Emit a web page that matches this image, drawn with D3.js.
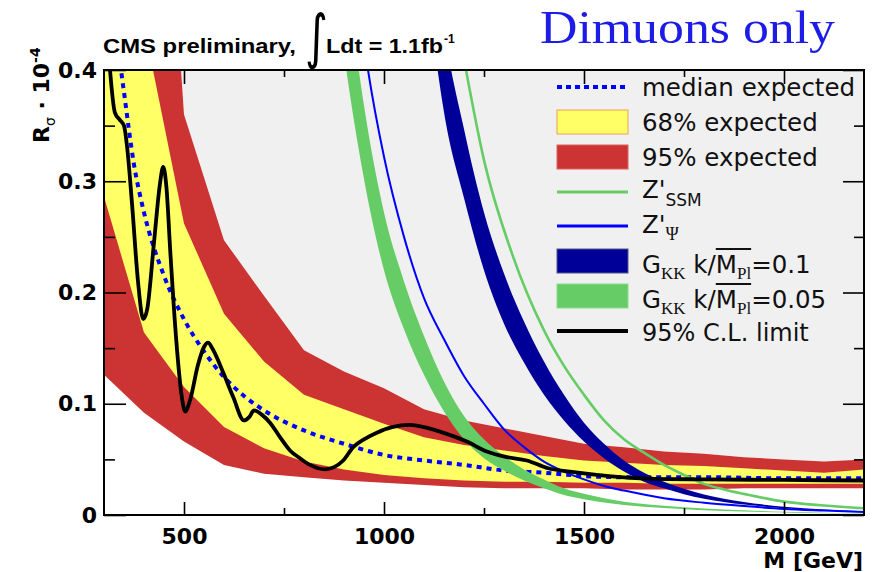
<!DOCTYPE html>
<html><head><meta charset="utf-8">
<script src="https://cdn.jsdelivr.net/npm/d3@7"></script>
<style>body{margin:0;background:#fff;} svg{display:block;}</style>
</head><body>
<svg id="c" width="884" height="572"></svg>
<script>
// ---------- data ----------
const bandMass   = [300,400,500,600,700,800,900,1000,1100,1200,1300,1400,1500,1600,1700,1800,1900,2000,2100,2200];
const exp95Hi    = [1.2,0.9,0.36,0.247,0.197,0.148,0.129,0.114,0.095,0.085,0.078,0.071,0.064,0.061,0.057,0.055,0.052,0.050,0.048,0.050];
const exp68Hi    = [0.62,0.44,0.262,0.181,0.138,0.108,0.095,0.082,0.070,0.063,0.058,0.053,0.049,0.047,0.045,0.044,0.042,0.040,0.038,0.041];
const exp68Lo    = [0.286,0.164,0.115,0.079,0.060,0.048,0.041,0.036,0.033,0.031,0.030,0.030,0.029,0.029,0.028,0.028,0.028,0.028,0.028,0.028];
const exp95Lo    = [0.126,0.092,0.066,0.045,0.037,0.034,0.031,0.029,0.027,0.025,0.024,0.024,0.024,0.023,0.023,0.023,0.024,0.024,0.024,0.024];

const medianMass = [300,325,350,375,400,450,500,550,600,650,700,800,900,1000,1100,1200,1300,1400,1500,1600,1800,2000,2200];
const medianVal  = [0.54,0.45,0.38,0.315,0.272,0.215,0.176,0.147,0.124,0.107,0.094,0.076,0.064,0.054,0.049,0.045,0.040,0.038,0.035,0.034,0.034,0.033,0.033];

const obsMass = [300,315,327,340,350,358,370,385,398,408,425,440,448,456,466,480,495,503,515,535,550,560,572,598,623,650,663,675,695,715,740,765,790,815,852,875,898,923,950,982,1020,1065,1100,1140,1207,1257,1307,1357,1410,1465,1532,1640,1800,2000,2200];
const obsVal  = [0.48,0.40,0.362,0.355,0.350,0.330,0.28,0.21,0.176,0.185,0.245,0.298,0.313,0.295,0.235,0.16,0.105,0.093,0.103,0.135,0.151,0.155,0.149,0.128,0.106,0.085,0.088,0.094,0.090,0.083,0.070,0.058,0.051,0.045,0.041,0.043,0.049,0.061,0.068,0.074,0.079,0.081,0.079,0.075,0.066,0.057,0.052,0.049,0.042,0.039,0.036,0.033,0.032,0.0315,0.031];

const zssmMass = [1180,1205,1250,1320,1400,1450,1500,1550,1600,1650,1700,1750,1800,1850,1900,2000,2100,2200];
const zssmVal  = [0.45,0.40,0.319,0.235,0.166,0.134,0.108,0.085,0.068,0.056,0.045,0.036,0.028,0.023,0.019,0.012,0.0085,0.006];

const zpsiMass = [940,960,1000,1050,1100,1150,1200,1250,1300,1350,1400,1450,1500,1550,1600,1700,1800,1900,2000,2100,2200];
const zpsiVal  = [0.45,0.40,0.322,0.25,0.195,0.158,0.125,0.100,0.077,0.061,0.048,0.039,0.032,0.026,0.022,0.015,0.011,0.008,0.0055,0.004,0.0027];

const gkk01Mass = [1130,1150,1200,1250,1300,1350,1400,1450,1500,1550,1600,1650,1700,1750,1800,1900,2000,2100,2200];
const gkk01Lo   = [0.41,0.362,0.285,0.220,0.172,0.137,0.108,0.085,0.066,0.051,0.039,0.030,0.024,0.0187,0.0147,0.0094,0.0061,0.0040,0.0027];
const gkk01Hi   = [0.50,0.44,0.347,0.272,0.217,0.174,0.138,0.108,0.083,0.064,0.049,0.038,0.030,0.0235,0.0185,0.0117,0.0075,0.0050,0.0033];

const gkk005Mass = [880,900,950,1000,1050,1100,1150,1200,1250,1300,1350,1400,1450,1500,1550,1600,1700,1800,1900,2000,2100,2200];
const gkk005Lo   = [0.47,0.415,0.302,0.22,0.167,0.126,0.093,0.068,0.051,0.040,0.031,0.024,0.018,0.0142,0.0112,0.009,0.0062,0.0043,0.0031,0.0022,0.0015,0.0010];
const gkk005Hi   = [0.57,0.505,0.368,0.272,0.21,0.161,0.120,0.089,0.068,0.053,0.041,0.032,0.024,0.019,0.015,0.012,0.0083,0.0058,0.0042,0.0029,0.0021,0.0014];

const xMajor = [500,1000,1500,2000];
const xMinor = [750,1250,1750];
const yMajor = [0,0.1,0.2,0.3,0.4];
const yMinor = [0.05,0.15,0.25,0.35];
const yLabels = ["0","0.1","0.2","0.3","0.4"];

// ---------- drawing ----------
const C = {red:"#cc3333", yellow:"#ffff66", green:"#66cc66", navy:"#000099", blue:"#0000ff", gray:"#f0f0f0"};
const svg = d3.select("#c");
const x = d3.scaleLinear().domain([300,2200]).range([104,864]);
const y = d3.scaleLinear().domain([0,0.4]).range([515,70]);

svg.append("defs").append("clipPath").attr("id","pc")
  .append("rect").attr("x",104).attr("y",70).attr("width",760).attr("height",445);
const plot = svg.append("g").attr("clip-path","url(#pc)");
plot.append("rect").attr("x",104).attr("y",70).attr("width",760).attr("height",445).attr("fill","#fff");

function bandPath(M, lo, hi, curve){
  return d3.area().x((d,i)=>x(M[i])).y0((d,i)=>y(lo[i])).y1((d,i)=>y(hi[i])).curve(curve)(M);
}
function linePath(M, v, curve){
  return d3.line().x((d,i)=>x(M[i])).y((d,i)=>y(v[i])).curve(curve)(M);
}
// grey region above the 95% band
plot.append("path").attr("fill",C.gray)
  .attr("d", d3.area().x((d,i)=>x(bandMass[i])).y0((d,i)=>y(exp95Hi[i])).y1(y(0.5))(bandMass));
plot.append("path").attr("fill",C.red).attr("d", bandPath(bandMass, exp95Lo, exp95Hi, d3.curveLinear));
plot.append("path").attr("fill",C.yellow).attr("d", bandPath(bandMass, exp68Lo, exp68Hi, d3.curveLinear));
plot.append("path").attr("fill","none").attr("stroke",C.blue).attr("stroke-width",4)
  .attr("stroke-dasharray","5,5").attr("d", linePath(medianMass, medianVal, d3.curveMonotoneX));
plot.append("path").attr("fill",C.green).attr("d", bandPath(gkk005Mass, gkk005Lo, gkk005Hi, d3.curveMonotoneX));
plot.append("path").attr("fill",C.navy).attr("d", bandPath(gkk01Mass, gkk01Lo, gkk01Hi, d3.curveMonotoneX));
plot.append("path").attr("fill","none").attr("stroke",C.blue).attr("stroke-width",2)
  .attr("d", linePath(zpsiMass, zpsiVal, d3.curveMonotoneX));
plot.append("path").attr("fill","none").attr("stroke",C.green).attr("stroke-width",2.6)
  .attr("d", linePath(zssmMass, zssmVal, d3.curveMonotoneX));
plot.append("path").attr("fill","none").attr("stroke","#000").attr("stroke-width",3.8).attr("stroke-linejoin","round")
  .attr("d", linePath(obsMass, obsVal, d3.curveMonotoneX));

// axes
const tickFont = "DejaVu Sans";
function styleAxis(g){ g.select(".domain").remove(); g.selectAll("line").attr("stroke","#000").attr("stroke-width",1.6); }
svg.append("g").attr("transform","translate(0,515)")
  .call(d3.axisBottom(x).tickValues(xMajor).tickSize(-13).tickPadding(13).tickFormat(d3.format("d")))
  .call(styleAxis)
  .call(g=>g.selectAll("text").attr("font-family",tickFont).attr("font-weight","bold").attr("font-size",22).attr("fill","#000"));
svg.append("g").attr("transform","translate(0,515)")
  .call(d3.axisBottom(x).tickValues(xMinor).tickSize(-7).tickFormat("")).call(styleAxis);
svg.append("g").attr("transform","translate(0,70)")
  .call(d3.axisTop(x).tickValues(xMajor).tickSize(-14).tickFormat("")).call(styleAxis);
svg.append("g").attr("transform","translate(0,70)")
  .call(d3.axisTop(x).tickValues(xMinor).tickSize(-7).tickFormat("")).call(styleAxis);
svg.append("g").attr("transform","translate(104,0)")
  .call(d3.axisLeft(y).tickValues(yMajor).tickSize(-22).tickPadding(7).tickFormat((d,i)=>yLabels[i]))
  .call(styleAxis)
  .call(g=>g.selectAll("text").attr("font-family",tickFont).attr("font-weight","bold").attr("font-size",22).attr("fill","#000"));
svg.append("g").attr("transform","translate(104,0)")
  .call(d3.axisLeft(y).tickValues(yMinor).tickSize(-11).tickFormat("")).call(styleAxis);
svg.append("g").attr("transform","translate(864,0)")
  .call(d3.axisRight(y).tickValues(yMajor).tickSize(-21).tickFormat("")).call(styleAxis);
svg.append("g").attr("transform","translate(864,0)")
  .call(d3.axisRight(y).tickValues(yMinor).tickSize(-10).tickFormat("")).call(styleAxis);
svg.append("rect").attr("x",104).attr("y",70).attr("width",760).attr("height",445)
  .attr("fill","none").attr("stroke","#000").attr("stroke-width",2);

// axis titles
svg.append("text").attr("x",863).attr("y",568).attr("text-anchor","end")
  .attr("font-family",tickFont).attr("font-weight","bold").attr("font-size",22).text("M [GeV]");
const yt = svg.append("text").attr("transform","translate(49,143) rotate(-90)")
  .attr("font-family",tickFont).attr("font-weight","bold").attr("font-size",22);
yt.append("tspan").text("R");
yt.append("tspan").attr("font-size",14).attr("font-weight","normal").attr("dy",6).text("σ");
yt.append("tspan").attr("dy",-6).attr("font-size",22).text(" · 10");
yt.append("tspan").attr("dy",-9).attr("font-size",14).text("-4");

// title
svg.append("text").attr("x",103).attr("y",53).attr("font-family","Liberation Sans").attr("font-weight","bold")
  .attr("font-size",21).attr("textLength",193).attr("lengthAdjust","spacingAndGlyphs").text("CMS preliminary,");
svg.append("text").attr("transform","translate(305,57) scale(1,1.35)").attr("font-family","DejaVu Sans")
  .attr("font-size",44).text("∫");
svg.append("text").attr("x",326).attr("y",53).attr("font-family","Liberation Sans").attr("font-weight","bold")
  .attr("font-size",21).attr("textLength",117).attr("lengthAdjust","spacingAndGlyphs").text("Ldt = 1.1fb");
svg.append("text").attr("x",444).attr("y",43).attr("font-family","Liberation Sans").attr("font-weight","bold")
  .attr("font-size",12).text("-1");
svg.append("text").attr("x",540).attr("y",43).attr("font-family","Liberation Serif")
  .attr("font-size",47).attr("fill","#1c1ce6").attr("textLength",295).attr("lengthAdjust","spacingAndGlyphs").text("Dimuons only");

// legend
const L = svg.append("g");
const lx0 = 557, lx1 = 628, tx = 642, lf = "DejaVu Sans", ls = 24.5;
L.append("line").attr("x1",lx0).attr("x2",lx1).attr("y1",87).attr("y2",87).attr("stroke",C.blue).attr("stroke-width",4).attr("stroke-dasharray","5,4");
L.append("rect").attr("x",lx0).attr("y",110).attr("width",lx1-lx0).attr("height",24).attr("fill",C.yellow).attr("stroke","#e8a060").attr("stroke-width",1);
L.append("rect").attr("x",lx0).attr("y",145).attr("width",lx1-lx0).attr("height",24).attr("fill",C.red).attr("stroke","#e06060").attr("stroke-width",1);
L.append("line").attr("x1",lx0).attr("x2",lx1).attr("y1",192).attr("y2",192).attr("stroke",C.green).attr("stroke-width",3);
L.append("line").attr("x1",lx0).attr("x2",lx1).attr("y1",226).attr("y2",226).attr("stroke",C.blue).attr("stroke-width",3);
L.append("rect").attr("x",lx0).attr("y",249).attr("width",lx1-lx0).attr("height",24).attr("fill",C.navy).attr("stroke","#555588").attr("stroke-width",1);
L.append("rect").attr("x",lx0).attr("y",284).attr("width",lx1-lx0).attr("height",24).attr("fill",C.green).attr("stroke","#88dd88").attr("stroke-width",1);
L.append("line").attr("x1",lx0).attr("x2",lx1).attr("y1",331).attr("y2",331).attr("stroke","#000").attr("stroke-width",4);

function ltext(yb, fs){ return L.append("text").attr("x",tx).attr("y",yb).attr("font-family",lf).attr("font-size",fs||ls).attr("fill","#111"); }
ltext(96).text("median expected");
ltext(131).text("68% expected");
ltext(166).text("95% expected");
let t = ltext(198); t.append("tspan").text("Z'"); t.append("tspan").attr("font-size",17).attr("dy",8).text("SSM");
t = ltext(233); t.append("tspan").text("Z'"); t.append("tspan").attr("font-family","Liberation Serif").attr("font-size",18).attr("dy",7).text("Ψ");
function gkk(yb, val){
  const tt = ltext(yb);
  tt.append("tspan").text("G");
  tt.append("tspan").attr("font-family","Liberation Serif").attr("font-size",17).attr("dy",6).text("KK");
  tt.append("tspan").attr("dy",-6).text(" k/M");
  tt.append("tspan").attr("font-family","Liberation Serif").attr("font-size",17).attr("dy",6).text("Pl");
  tt.append("tspan").attr("dy",-6).text(val);
  const n = tt.node();
  const full = n.textContent;
  const iM = full.indexOf("M");
  const x1 = n.getStartPositionOfChar(iM).x;
  const e = n.getEndPositionOfChar(iM+2).x;
  L.append("line").attr("x1",x1).attr("x2",e).attr("y1",yb-24).attr("y2",yb-24).attr("stroke","#111").attr("stroke-width",2);
}
gkk(273, "=0.1");
gkk(308, "=0.05");
ltext(341, 24).text("95% C.L. limit");
</script>
</body></html>
